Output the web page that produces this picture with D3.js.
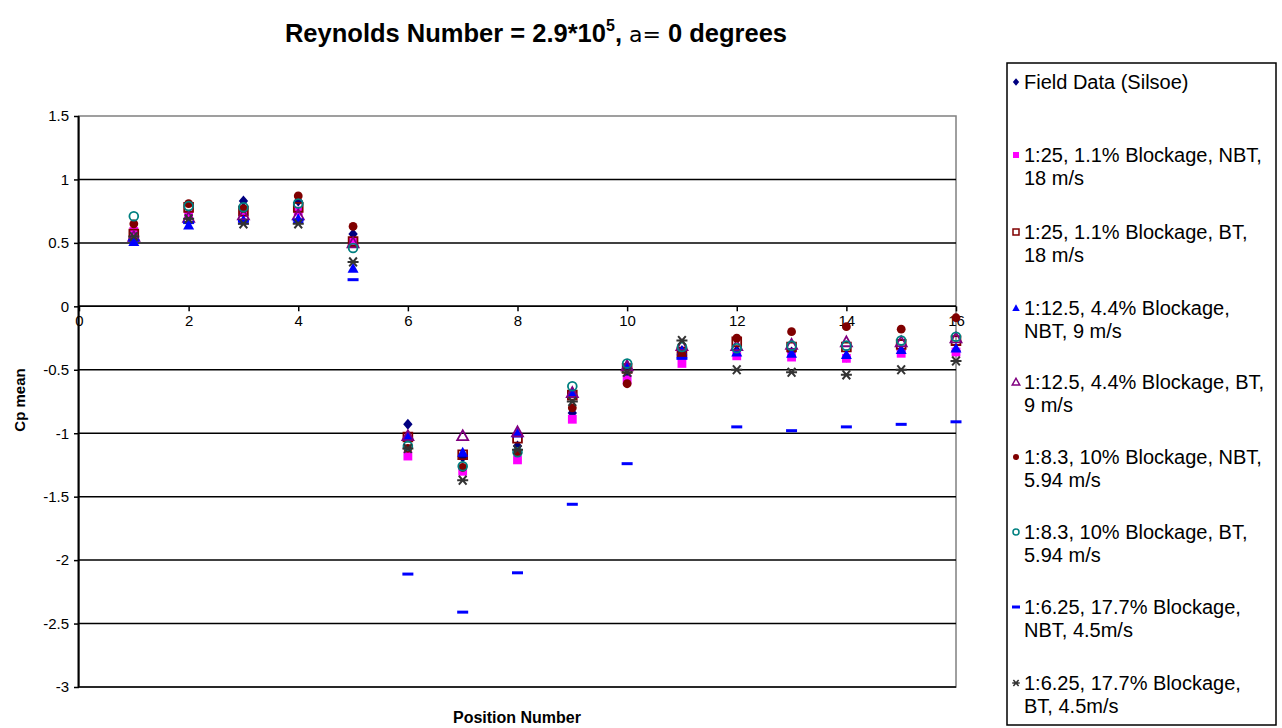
<!DOCTYPE html>
<html><head><meta charset="utf-8">
<script src="https://cdn.jsdelivr.net/npm/d3@7"></script>
<style>body{margin:0;background:#fff}svg{display:block;font-family:Arial,"Liberation Sans",sans-serif}</style>
</head><body>
<svg id="c" width="1282" height="728"></svg>
<script>
const positions = [1,2,3,4,5,6,7,8,9,10,11,12,13,14,15,16];
const xTicks = [0,2,4,6,8,10,12,14,16];
const yTicks = [1.5,1,0.5,0,-0.5,-1,-1.5,-2,-2.5,-3];
const seriesNames = [
  ["Field Data (Silsoe)"],
  ["1:25, 1.1% Blockage, NBT,","18 m/s"],
  ["1:25, 1.1% Blockage, BT,","18 m/s"],
  ["1:12.5, 4.4% Blockage,","NBT, 9 m/s"],
  ["1:12.5, 4.4% Blockage, BT,","9 m/s"],
  ["1:8.3, 10% Blockage, NBT,","5.94 m/s"],
  ["1:8.3, 10% Blockage, BT,","5.94 m/s"],
  ["1:6.25, 17.7% Blockage,","NBT, 4.5m/s"],
  ["1:6.25, 17.7% Blockage,","BT, 4.5m/s"]
];
const fieldData   = [0.59,0.70,0.83,0.83,0.57,-0.93,-1.19,-1.10,-0.84,-0.55,-0.35,-0.35,-0.36,-0.40,-0.35,-0.35];
const s125NBT     = [0.59,0.72,0.74,0.75,0.51,-1.18,-1.30,-1.21,-0.89,-0.58,-0.45,-0.39,-0.40,-0.41,-0.37,-0.36];
const s125BT      = [0.57,0.78,0.75,0.78,0.51,-1.03,-1.17,-1.04,-0.70,-0.49,-0.36,-0.28,-0.32,-0.32,-0.30,-0.27];
const s12NBT      = [0.51,0.64,0.68,0.69,0.30,-1.02,-1.15,-1.00,-0.68,-0.46,-0.35,-0.36,-0.37,-0.38,-0.34,-0.33];
const s12BT       = [0.55,0.70,0.72,0.72,0.50,-1.02,-1.02,-0.99,-0.68,-0.47,-0.31,-0.31,-0.30,-0.28,-0.28,-0.25];
const s8NBT       = [0.65,0.81,0.77,0.87,0.63,-1.12,-1.27,-1.15,-0.80,-0.61,-0.38,-0.25,-0.20,-0.16,-0.18,-0.09];
const s8BT        = [0.71,0.79,0.78,0.81,0.46,-1.10,-1.26,-1.15,-0.63,-0.45,-0.32,-0.33,-0.31,-0.31,-0.27,-0.24];
const s6NBT       = [0.52,0.66,0.67,0.68,0.21,-2.11,-2.41,-2.10,-1.56,-1.24,-0.41,-0.95,-0.98,-0.95,-0.93,-0.91];
const s6BT        = [0.55,0.69,0.65,0.65,0.35,-1.12,-1.37,-1.13,-0.75,-0.52,-0.27,-0.50,-0.52,-0.54,-0.50,-0.43];
const allSeries = [fieldData,s125NBT,s125BT,s12NBT,s12BT,s8NBT,s8BT,s6NBT,s6BT];

const styles = [
  {shape:"diamond", fill:"#000080", stroke:"none"},
  {shape:"square", fill:"#FF00FF", stroke:"none"},
  {shape:"square", fill:"none", stroke:"#800000"},
  {shape:"triangle", fill:"#0000FF", stroke:"none"},
  {shape:"triangle", fill:"none", stroke:"#800080"},
  {shape:"circle", fill:"#800000", stroke:"none"},
  {shape:"circle", fill:"none", stroke:"#008080"},
  {shape:"dash", fill:"#0000FF", stroke:"none"},
  {shape:"star", fill:"none", stroke:"#333333"}
];

function markerPath(shape, s){
  const h=s/2;
  switch(shape){
    case "diamond": return `M0,${-h}L${h*0.85},0L0,${h}L${-h*0.85},0Z`;
    case "square": { const q=h*0.8; return `M${-q},${-q}H${q}V${q}H${-q}Z`; }
    case "triangle": return `M0,${-h}L${h},${h*0.8}L${-h},${h*0.8}Z`;
    case "circle": { const r=h*0.8; return `M${r},0A${r},${r} 0 1,1 ${-r},0A${r},${r} 0 1,1 ${r},0Z`; }
    case "dash": return `M${-h},${-1.5}H${h}V${1.5}H${-h}Z`;
    case "star": return `M${-h},0H${h}M${-h*0.7},${-h*0.8}L${h*0.7},${h*0.8}M${-h*0.7},${h*0.8}L${h*0.7},${-h*0.8}M0,${-h*0.2}V${h*0.2}`;
  }
}

const svg = d3.select("#c");
const L=79, R=956, T=116, B=687;
const x = d3.scaleLinear().domain([0,16]).range([L,R]);
const y = d3.scaleLinear().domain([-3,1.5]).range([B,T]);

svg.append("rect").attr("x",L).attr("y",T).attr("width",R-L).attr("height",B-T)
  .attr("fill","#fff").attr("stroke","#808080").attr("stroke-width",1.5);

svg.append("g").selectAll("line").data(yTicks.filter(v=>v<1.5)).join("line")
  .attr("x1",L).attr("x2",R).attr("y1",d=>y(d)).attr("y2",d=>y(d))
  .attr("stroke","#000").attr("stroke-width",1.5);

const yAxis = d3.axisLeft(y).tickValues(yTicks).tickSize(5).tickFormat(d=>String(d));
const gy = svg.append("g").attr("transform",`translate(${L},0)`).call(yAxis);
gy.select(".domain").attr("stroke","#000").attr("stroke-width",2).attr("d",`M-0.5,${T}V${B}`);
gy.selectAll(".tick line").attr("stroke","#000").attr("stroke-width",1.5);
gy.selectAll(".tick text").attr("font-size",15).attr("font-family","Arial, 'Liberation Sans', sans-serif").attr("fill","#000").attr("x",-10);

const xAxis = d3.axisBottom(x).tickValues(xTicks).tickSize(5).tickFormat(d=>String(d));
const gx = svg.append("g").attr("transform",`translate(0,${y(0)})`).call(xAxis);
gx.select(".domain").attr("stroke","#000").attr("stroke-width",1.5).attr("d",`M${L},0H${R}`);
gx.selectAll(".tick line").attr("stroke","#000").attr("stroke-width",1.5);
gx.selectAll(".tick text").attr("font-size",15).attr("font-family","Arial, 'Liberation Sans', sans-serif").attr("fill","#000").attr("dy","0.71em").attr("y",9);

const pts = svg.append("g");
allSeries.forEach((vals,i)=>{
  const st=styles[i];
  const size = st.shape==="dash"?11:(st.shape==="star"?11:11);
  pts.append("g").selectAll("path").data(vals.map((v,j)=>({x:positions[j],v}))).join("path")
    .attr("transform",d=>`translate(${x(d.x)},${y(d.v)})`)
    .attr("d",markerPath(st.shape,size))
    .attr("fill",st.fill).attr("stroke",st.stroke)
    .attr("stroke-width",st.shape==="star"?2:1.8);
});

svg.append("text").attr("x",517).attr("y",723).attr("text-anchor","middle")
  .attr("font-size",16).attr("font-weight","bold").text("Position Number");
svg.append("text").attr("transform","translate(25,400) rotate(-90)").attr("text-anchor","middle")
  .attr("font-size",15).attr("font-weight","bold").text("Cp mean");

const t = svg.append("text").attr("x",536).attr("y",42).attr("text-anchor","middle").attr("font-size",25.5).attr("font-weight","bold");
t.append("tspan").text("Reynolds Number = 2.9*10");
t.append("tspan").attr("font-size",16).attr("dy",-11).text("5");
t.append("tspan").attr("dy",11).text(", ");
t.append("tspan").attr("font-weight","normal").attr("font-family","'DejaVu Sans', sans-serif").attr("font-size",22).text("a= ");
t.append("tspan").text(" 0 degrees");

svg.append("rect").attr("x",1007).attr("y",63).attr("width",269).attr("height",662)
  .attr("fill","#fff").attr("stroke","#000").attr("stroke-width",1.5);
const rowY = [82,155,232,308,382,457,532,607,683];
const lg = svg.append("g");
seriesNames.forEach((lines,i)=>{
  const st=styles[i];
  lg.append("path").attr("transform",`translate(1016,${rowY[i]})`)
    .attr("d",markerPath(st.shape, st.shape==="dash"?8:7.5))
    .attr("fill",st.fill).attr("stroke",st.stroke).attr("stroke-width",1.5);
  const tx = lg.append("text").attr("x",1024).attr("y",rowY[i]+7).attr("font-size",20).attr("fill","#000");
  lines.forEach((ln,k)=>tx.append("tspan").attr("x",1024).attr("dy",k===0?0:23).text(ln));
});
</script>
</body></html>
